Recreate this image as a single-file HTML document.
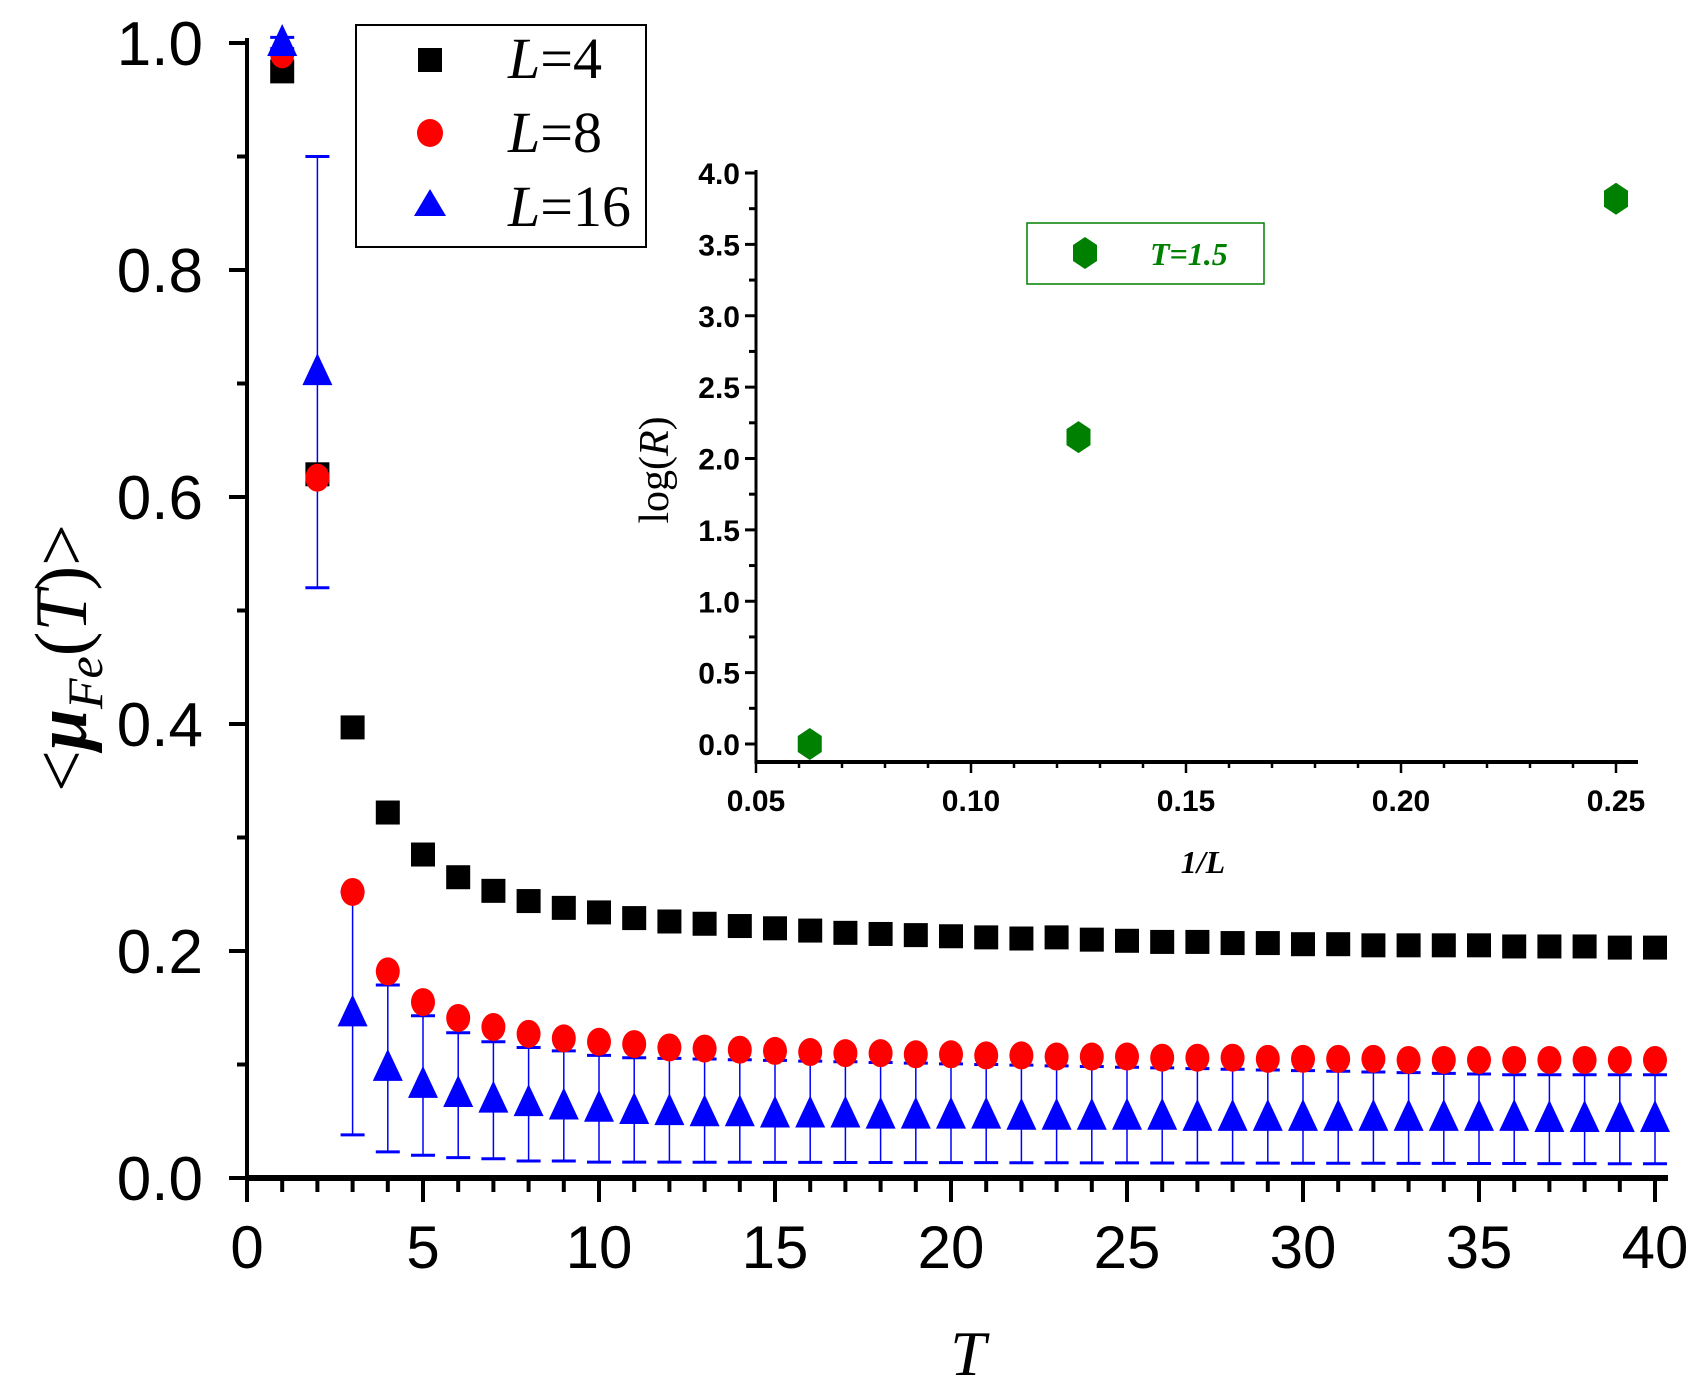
<!DOCTYPE html>
<html><head><meta charset="utf-8"><style>html,body{margin:0;padding:0;background:#fff}svg{display:block}</style></head>
<body>
<svg id="s" width="1706" height="1391" viewBox="0 0 1706 1391" xmlns="http://www.w3.org/2000/svg" font-family="Liberation Sans, sans-serif"></svg>
<script>
const s=document.getElementById('s');let h='';
const X=t=>247+t*35.2, Y=v=>1178-v*1135;
h+=`<line x1="247" y1="38" x2="247" y2="1180" stroke="#000" stroke-width="4"/>`;
h+=`<line x1="245" y1="1178" x2="1668" y2="1178" stroke="#000" stroke-width="6"/>`;
for(let t=0;t<=40;t++){const maj=t%5==0;h+=`<line x1="${X(t)}" y1="1178" x2="${X(t)}" y2="${1178+(maj?24:14)}" stroke="#000" stroke-width="4"/>`;
 if(maj)h+=`<text x="${X(t)}" y="1268" font-size="60" text-anchor="middle">${t}</text>`;}
for(let i=0;i<=10;i++){const v=i/10,maj=i%2==0;h+=`<line x1="${maj?229:237}" y1="${Y(v)}" x2="247" y2="${Y(v)}" stroke="#000" stroke-width="4"/>`;
 if(maj)h+=`<text x="203" y="${Y(v)+22}" font-size="62" text-anchor="end">${v.toFixed(1)}</text>`;}
h+=`<text x="968" y="1375" font-size="64" font-style="italic" font-family="Liberation Serif, serif" text-anchor="middle">T</text>`;
h+=`<text transform="translate(86,658) rotate(-90)" font-size="74" font-family="Liberation Serif, serif" text-anchor="middle">&lt;<tspan font-style="italic" font-weight="bold">μ</tspan><tspan font-style="italic" font-size="50" dy="16">Fe</tspan><tspan dy="-16">(</tspan><tspan font-style="italic">T</tspan>)&gt;</text>`;
const b=[0.975,0.62,0.397,0.322,0.285,0.265,0.253,0.244,0.238,0.234,0.229,0.226,0.224,0.222,0.22,0.218,0.216,0.215,0.214,0.213,0.212,0.211,0.212,0.21,0.209,0.208,0.208,0.207,0.207,0.206,0.206,0.205,0.205,0.205,0.205,0.204,0.204,0.204,0.203,0.203];
const r=[0.99,0.617,0.252,0.182,0.155,0.141,0.133,0.127,0.123,0.12,0.118,0.115,0.114,0.113,0.112,0.111,0.11,0.11,0.109,0.109,0.108,0.108,0.107,0.107,0.107,0.106,0.106,0.106,0.105,0.105,0.105,0.105,0.104,0.104,0.104,0.104,0.104,0.104,0.104,0.104];
const u=[1.0,0.71,0.145,0.097,0.082,0.074,0.069,0.066,0.063,0.061,0.059,0.058,0.057,0.057,0.056,0.056,0.056,0.055,0.055,0.055,0.055,0.054,0.054,0.054,0.054,0.054,0.053,0.053,0.053,0.053,0.053,0.053,0.053,0.053,0.053,0.053,0.052,0.052,0.052,0.052];
const lo=[0.995,0.52,0.038,0.023,0.02,0.018,0.017,0.015,0.015,0.014];
const hi=[1.005,0.90,0.252,0.17,0.143,0.128,0.12,0.115,0.112,0.108];
for(let i=0;i<40;i++){const t=i+1;const l=i<lo.length?lo[i]:Math.max(0.0125,0.014-0.00005*(i-10));const hh=i<hi.length?hi[i]:Math.max(0.091,0.106-0.0006*(i-10));
 const x=X(t);h+=`<line x1="${x}" y1="${Y(l)}" x2="${x}" y2="${Y(hh)}" stroke="#00f" stroke-width="1.5"/><line x1="${x-12}" y1="${Y(l)}" x2="${x+12}" y2="${Y(l)}" stroke="#00f" stroke-width="3"/><line x1="${x-12}" y1="${Y(hh)}" x2="${x+12}" y2="${Y(hh)}" stroke="#00f" stroke-width="3"/>`;}
for(let i=0;i<40;i++){const x=X(i+1);
 h+=`<rect x="${x-12}" y="${Y(b[i])-12}" width="24" height="24" fill="#000"/>`;
 h+=`<ellipse cx="${x}" cy="${Y(r[i])}" rx="12" ry="14" fill="#f00"/>`;
 const y=Y(u[i]);h+=`<polygon points="${x},${y-19} ${x-15},${y+13} ${x+15},${y+13}" fill="#00f"/>`;}
h+=`<rect x="356" y="25" width="290" height="222" fill="#fff" stroke="#000" stroke-width="2"/>`;
h+=`<rect x="418" y="48" width="24" height="24" fill="#000"/><ellipse cx="430" cy="133" rx="13" ry="14" fill="#f00"/><polygon points="430,189 414,216 446,216" fill="#00f"/>`;
[['4',78],['8',152],['16',226]].forEach(([n,y])=>h+=`<text x="508" y="${y}" font-size="58" font-family="Liberation Serif, serif"><tspan font-style="italic">L</tspan>=${n}</text>`);
const IX=v=>756+(v-0.05)*4300, IY=v=>744-v*142.75;
h+=`<line x1="756" y1="170" x2="756" y2="764" stroke="#000" stroke-width="3"/><line x1="755" y1="762" x2="1638" y2="762" stroke="#000" stroke-width="4"/>`;
for(let i=0;i<=16;i++){const v=i*0.25,maj=i%2==0;h+=`<line x1="${maj?745:749}" y1="${IY(v)}" x2="756" y2="${IY(v)}" stroke="#000" stroke-width="3"/>`;
 if(maj)h+=`<text x="740" y="${IY(v)+11}" font-size="30" font-weight="bold" text-anchor="end">${v.toFixed(1)}</text>`;}
for(let i=0;i<=20;i++){const v=0.05+i*0.01,maj=i%5==0;h+=`<line x1="${IX(v)}" y1="762" x2="${IX(v)}" y2="${762+(maj?11:6)}" stroke="#000" stroke-width="2.5"/>`;
 if(maj)h+=`<text x="${IX(v)}" y="811" font-size="30" font-weight="bold" text-anchor="middle">${v.toFixed(2)}</text>`;}
h+=`<text x="1203" y="873" font-size="32" font-style="italic" font-weight="bold" font-family="Liberation Serif, serif" text-anchor="middle">1/L</text>`;
h+=`<text transform="translate(668,470) rotate(-90)" font-size="42" font-family="Liberation Serif, serif" text-anchor="middle">log(<tspan font-style="italic">R</tspan>)</text>`;
const hex=(x,y)=>`<polygon points="${x},${y-16} ${x+12},${y-8} ${x+12},${y+8} ${x},${y+16} ${x-12},${y+8} ${x-12},${y-8}" fill="#008000"/>`;
h+=hex(IX(0.0625),IY(0))+hex(IX(0.125),IY(2.15))+hex(IX(0.25),IY(3.82));
h+=`<rect x="1027" y="223" width="237" height="61" fill="#fff" stroke="#008000" stroke-width="1.5"/>`+hex(1085,253);
h+=`<text x="1150" y="265" font-size="32" font-style="italic" font-weight="bold" font-family="Liberation Serif, serif" fill="#008000">T=1.5</text>`;
s.innerHTML=h;
</script>
</body></html>
